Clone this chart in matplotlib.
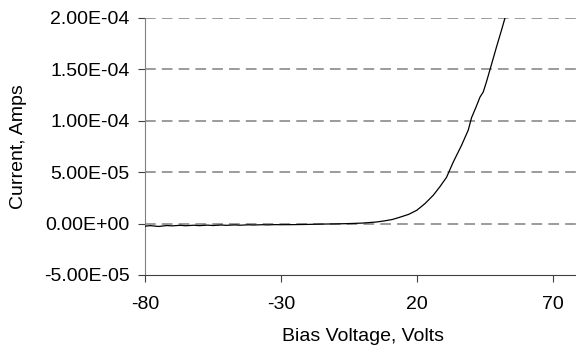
import matplotlib
matplotlib.use('Agg')
import matplotlib.pyplot as plt

# bias sweep
voltage = [-80, -78, -75, -72, -70, -67, -65, -62, -60, -57, -55, -52, -50,
           -47, -45, -42, -40, -37, -35, -32, -30, -25, -20, -15, -10, -5,
           0, 5, 8, 11, 14, 17, 20, 23, 26, 28.5, 30.9, 33.4, 36.4, 38.9,
           40.1, 41.7, 43.2, 44.4, 45.6, 46.8, 48, 49.3, 50.2, 51.1, 52.4]
current = [-2.5e-6, -2.0e-6, -2.8e-6, -1.9e-6, -2.2e-6, -1.7e-6, -2.1e-6,
           -1.6e-6, -2.0e-6, -1.5e-6, -1.9e-6, -1.4e-6, -1.7e-6, -1.3e-6,
           -1.6e-6, -1.2e-6, -1.4e-6, -1.1e-6, -1.3e-6, -1.0e-6, -1.1e-6,
           -1.0e-6, -0.8e-6, -0.5e-6, -0.3e-6, 0.0, 0.5e-6, 1.5e-6, 2.6e-6,
           4.0e-6, 6.4e-6, 9.0e-6, 1.3e-5, 1.95e-5, 2.75e-5, 3.6e-5, 4.5e-5,
           6.0e-5, 7.6e-5, 9.1e-5, 1.03e-4, 1.13e-4, 1.23e-4, 1.28e-4,
           1.38e-4, 1.49e-4, 1.60e-4, 1.72e-4, 1.80e-4, 1.88e-4, 2.0e-4]

x_ticks = [-80, -30, 20, 70]
y_ticks = [-5e-5, 0, 5e-5, 1e-4, 1.5e-4, 2e-4]

plt.rcParams['font.family'] = ['Liberation Sans', 'DejaVu Sans']
plt.rcParams['axes.unicode_minus'] = False

fig = plt.figure(figsize=(5.76, 3.52), dpi=100)
ax = fig.add_axes([0.2517, 0.2188, 0.7553, 0.7301])

for y in y_ticks[1:]:
    ax.axhline(y, color='#808080', lw=1.1, ls=(0, (7, 4)), zorder=1)

ax.plot(voltage, current, color='black', lw=0.9, zorder=3)

ax.set_xlim(-80, 80)
ax.set_ylim(-5e-5, 2e-4)
ax.set_xticks(x_ticks)
ax.set_yticks(y_ticks)
ax.set_yticklabels(['%.2E' % v for v in y_ticks])
ax.tick_params(labelsize=14, length=5, color='#404040')
ax.tick_params(axis='y', pad=6)
ax.tick_params(axis='x', pad=10)

ax.spines['top'].set_visible(False)
ax.spines['right'].set_visible(False)
ax.spines['left'].set_color('#808080')
ax.spines['bottom'].set_color('#404040')

ax.set_xlabel('Bias Voltage, Volts', fontsize=14)
ax.set_ylabel('Current, Amps', fontsize=14)
ax.xaxis.set_label_coords(0.5, -0.205)
ax.yaxis.set_label_coords(-0.271, 0.5)

fig.savefig('out.png', dpi=100)
